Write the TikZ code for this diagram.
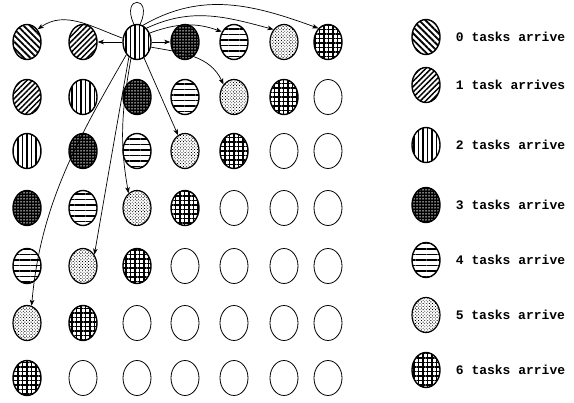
\documentclass[tikz,border=0pt]{standalone}
\usepackage{fontspec}
\setmonofont{Liberation Mono}
\usetikzlibrary{arrows.meta,shapes.geometric,patterns.meta,positioning}

\begin{document}
\begin{tikzpicture}[x=1pt, y=1pt,
  cell/.style={ellipse, draw, line width=0.8pt, minimum width=28pt, minimum height=35pt, inner sep=0pt},
  k0/.style={cell, line width=1.4pt, pattern={Lines[angle=-45, distance=4.5pt, line width=1.8pt]}},
  k1/.style={cell, line width=1.4pt, pattern={Lines[angle=45, distance=3.8pt, line width=1.5pt]}},
  k2/.style={cell, line width=1.4pt, pattern={Lines[angle=90, distance=4.5pt, line width=1.8pt]}},
  k3/.style={cell, line width=1.4pt, preaction={fill=black}, pattern={Dots[distance=3pt, radius=0.75pt]}, pattern color=white},
  k4/.style={cell, line width=1.4pt, pattern={Lines[angle=0, distance=5.5pt, line width=1.6pt]}},
  k5/.style={cell, line width=1.2pt, pattern={Dots[distance=2.2pt, angle=45, radius=0.6pt]}},
  k6/.style={cell, line width=1.4pt, pattern={Hatch[angle=0, distance=4.5pt, line width=1.4pt]}},
  k7/.style={cell},
  arr/.style={line width=0.7pt, -{Stealth[length=6pt, width=4.5pt, inset=1.5pt]}},
  legtext/.style={font=\ttfamily\bfseries\fontsize{13}{15}\selectfont, inner sep=0pt}]
\useasboundingbox (0,0) rectangle (574,-403);
\foreach \r/\y in {0/42,1/97,2/151,3/208,4/266,5/323,6/378}
  \foreach \c/\x in {0/27,1/83,2/137,3/185,4/234,5/284,6/328} {
    \pgfmathtruncatemacro\k{min(\r+\c,7)}
    \node[k\k] (n\r\c) at (\x,-\y) {};
  }
\draw[arr] (n02) -- (n01);
\draw[arr] (n02) -- (n03);
\draw[arr] (n02.165) to[out=160, in=35] (n00.50);
\draw[arr] (n02.35) to[out=20, in=160] (n04.140);
\draw[arr] (n02.55) to[out=25, in=165] (n05.130);
\draw[arr] (n02.70) to[out=30, in=160] (n06.125);
\draw[line width=0.7pt] (n02.100) .. controls +(115:32) and +(65:32) .. (n02.80);
\draw[arr] (n02.-20) to[out=-10, in=115] (n14.130);
\draw[arr] (n02) -- (n23);
\draw[arr] (n02.-110) to[out=-100, in=100] (n32.120);
\draw[arr] (n02.-118) .. controls +(-100:120) and +(80:30) .. (n41.45);
\draw[arr] (n02.-130) .. controls +(-120:100) and +(85:100) .. (n50.75);
\foreach \k/\y/\txt in {0/37/0 tasks arrive, 1/85/1 task arrives, 2/145/2 tasks arrive,
    3/205/3 tasks arrive, 4/260/4 tasks arrive, 5/315/5 tasks arrive, 6/370/6 tasks arrive} {
  \node[k\k] (l\k) at (426,-\y) {};
  \node[legtext, right=15pt of l\k] (t\k) {\txt};
}
\end{tikzpicture}
\end{document}
